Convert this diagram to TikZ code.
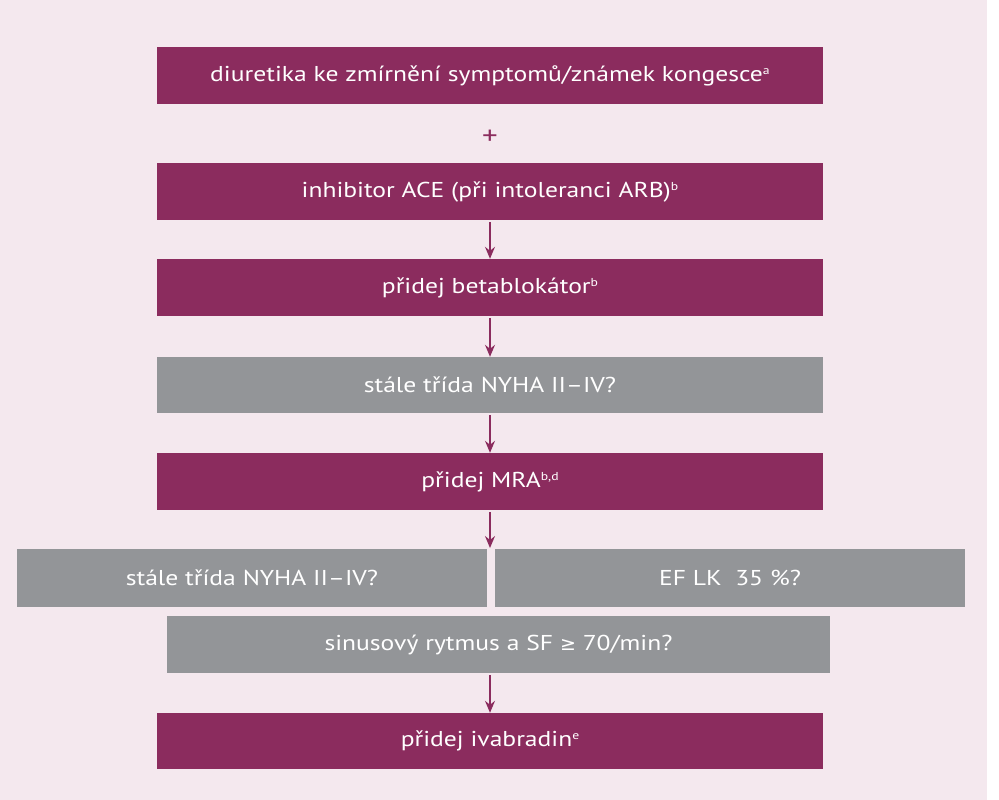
\documentclass[tikz,border=0pt]{standalone}
\usepackage{fontspec}
\setmainfont[FakeStretch=1.19]{PT Sans}
\newfontfamily\symfont{DejaVu Sans}
\usetikzlibrary{arrows.meta}
\definecolor{bgpink}{RGB}{244,232,238}
\definecolor{plum}{RGB}{139,44,94}
\definecolor{boxgrey}{RGB}{147,149,152}
\tikzset{
  pbox/.style={fill=plum, text=white, inner sep=0pt, minimum height=57pt, font=\fontsize{21.5}{25}\selectfont},
  gbox/.style={fill=boxgrey, text=white, inner sep=0pt, minimum height=57pt, font=\fontsize{21.5}{25}\selectfont},
  flow/.style={draw=plum, line width=1.4pt, -{Stealth[length=12pt,width=10pt,inset=4pt]}, shorten <=2pt}
}
\newcommand{\sups}[1]{\raisebox{7pt}{\fontsize{11.5}{12}\selectfont #1}}
\begin{document}
\begin{tikzpicture}[x=1pt,y=-1pt]
\fill[bgpink] (0,0) rectangle (987,800);
\fill[white] (987,0) rectangle (999,800);
\useasboundingbox (0,0) rectangle (999,800);
\node[pbox, minimum width=666pt] (b1) at (490,75.5) {diuretika ke zmírnění symptomů/známek kongesce\sups{a}};
\node[text=plum, font=\fontsize{26}{30}\selectfont] (plus) at (490,137) {+};
\node[pbox, minimum width=666pt] (b2) at (490,191.5) {inhibitor ACE (při intoleranci ARB)\sups{b}};
\node[pbox, minimum width=666pt] (b3) at (490,287.5) {přidej betablokátor\sups{b}};
\node[gbox, minimum width=666pt, minimum height=56pt] (b4) at (490,385) {stále třída NYHA II–IV?};
\node[pbox, minimum width=666pt] (b5) at (490,481.5) {přidej MRA\sups{b,d}};
\node[gbox, minimum width=470pt, minimum height=58pt] (left) at (252,578) {stále třída NYHA II–IV?};
\node[gbox, minimum width=470pt, minimum height=58pt] (right) at (730,578) {EF LK\ \ 35 \%?};
\node[gbox, minimum width=663pt] (sinus) at (498.5,644.5) {sinusový rytmus a SF {\symfont\fontsize{19}{20}\selectfont ≥} 70/min?};
\node[pbox, minimum width=666pt, minimum height=56pt] (b6) at (490,741) {přidej ivabradin\sups{e}};
\coordinate (split) at (490,548);
\draw[flow] (b2.south) -- (b3.north);
\draw[flow] (b3.south) -- (b4.north);
\draw[flow] (b4.south) -- (b5.north);
\draw[flow] (b5.south) -- (split);
\draw[flow] (sinus.south -| b6.north) -- (b6.north);
\end{tikzpicture}
\end{document}
